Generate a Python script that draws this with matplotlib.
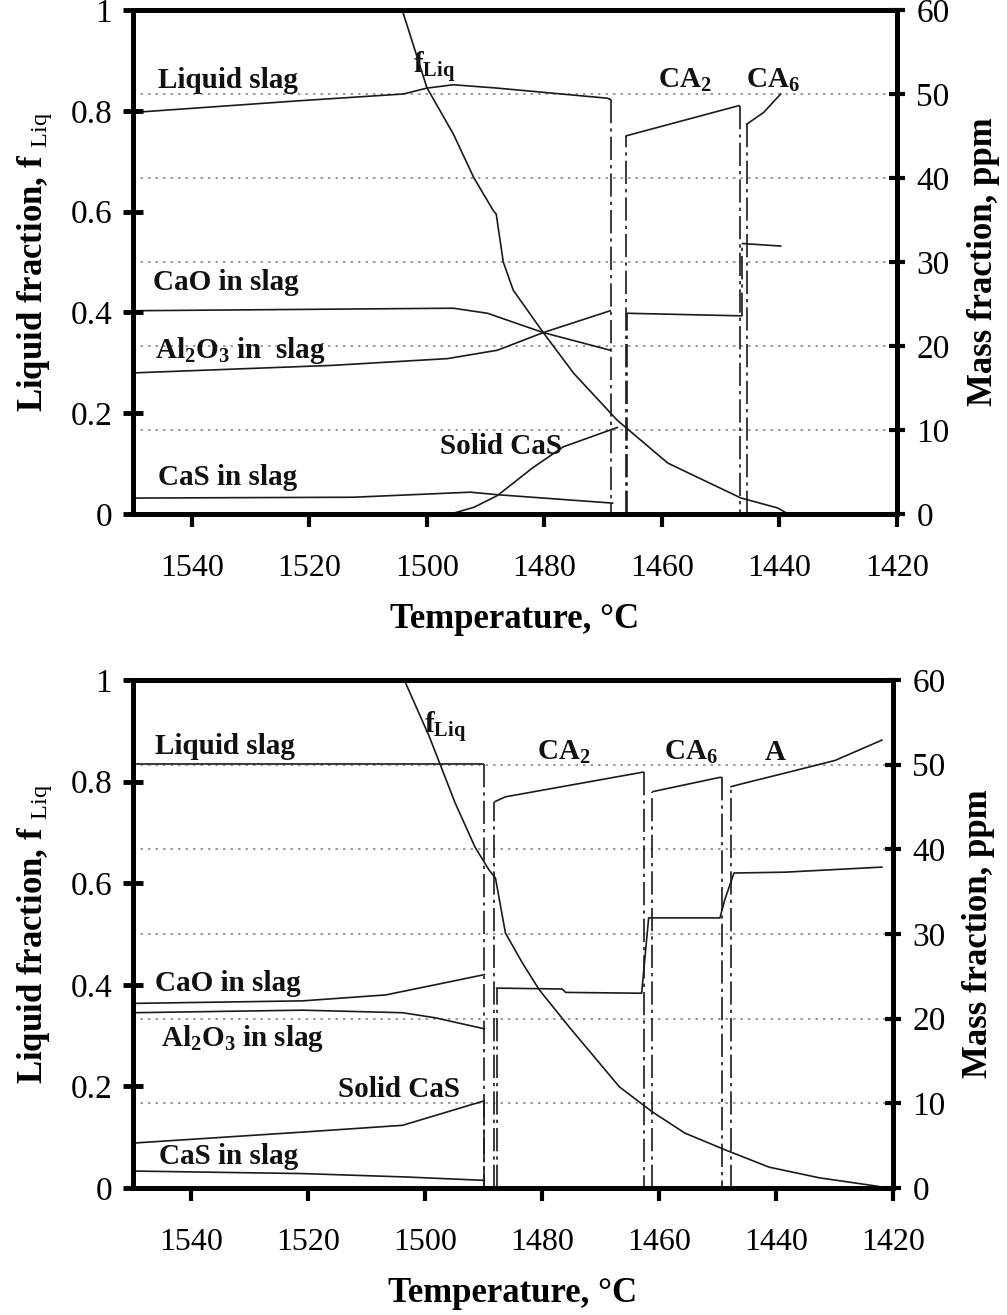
import matplotlib
matplotlib.use('Agg')
import matplotlib.pyplot as plt

plt.rcParams['font.family'] = ['Liberation Serif', 'DejaVu Serif']
plt.rcParams['mathtext.fontset'] = 'custom'
plt.rcParams['mathtext.rm'] = 'Liberation Serif'
plt.rcParams['mathtext.bf'] = 'Liberation Serif:bold'
plt.rcParams['mathtext.it'] = 'Liberation Serif:italic'

# ---------------- data : top panel ----------------
top_fliq_T = [1504.2, 1500, 1495.5, 1492, 1488.7, 1488.2, 1487, 1485.3, 1480.2, 1475, 1467.6, 1459, 1446.6, 1440.3, 1438.5]
top_fliq = [1.0, 0.846, 0.754, 0.667, 0.602, 0.595, 0.50, 0.444, 0.360, 0.279, 0.186, 0.101, 0.032, 0.012, 0.0]

top_liq_T = [1550, 1521.6, 1504, 1500, 1495.5, 1488, 1469.3, 1468.6, 1468.6]
top_liq = [47.8, 49.2, 50.0, 50.7, 51.1, 50.7, 49.5, 49.3, 0]

top_cao_T = [1550, 1495.5, 1489.7, 1480.2, 1468.8]
top_cao = [24.2, 24.5, 23.9, 21.6, 19.5]

top_al2o3_T = [1550, 1516, 1496.5, 1488, 1480.2, 1468.8]
top_al2o3 = [16.8, 17.7, 18.5, 19.5, 21.6, 24.2]

top_cas_T = [1550, 1512.5, 1492.6, 1488, 1468.4]
top_cas = [1.9, 2.0, 2.6, 2.3, 1.3]

top_solcas_T = [1496, 1492, 1488, 1482, 1476.8, 1467.6]
top_solcas = [0, 0.8, 2.2, 5.5, 8.0, 10.3]

top_ca2_T = [1466.2, 1466.2, 1447.0, 1446.7, 1446.7]
top_ca2 = [0, 45.0, 48.6, 48.6, 0]

top_ca6_T = [1445.6, 1445.6, 1442.7, 1439.8]
top_ca6 = [0, 46.4, 47.8, 50.0]

top_caop_T = [1466.0, 1466.0, 1447.0, 1446.3, 1446.3, 1439.8]
top_caop = [0, 23.9, 23.6, 23.6, 32.2, 31.9]

# ---------------- data : bottom panel ----------------
bot_fliq_T = [1503.6, 1499.3, 1494.9, 1491.5, 1489.1, 1488, 1486.3, 1483.4, 1480.5, 1475.4, 1466.8, 1461.2, 1455.6, 1448.7, 1441.2, 1432.6, 1423, 1421]
bot_fliq = [1.0, 0.888, 0.758, 0.671, 0.626, 0.610, 0.502, 0.443, 0.39, 0.317, 0.199, 0.150, 0.108, 0.075, 0.041, 0.020, 0.004, 0.0]

bot_liq_T = [1550, 1489.9, 1489.9]
bot_liq = [50.1, 50.1, 0]

bot_cao_T = [1550, 1521, 1506.8, 1498.3, 1489.9]
bot_cao = [21.8, 22.1, 22.8, 24.0, 25.2]

bot_al2o3_T = [1550, 1521, 1503.9, 1498.3, 1489.9]
bot_al2o3 = [20.7, 21.0, 20.7, 20.1, 18.8]

bot_solcas_T = [1550, 1521, 1503.9, 1489.9, 1489.9]
bot_solcas = [5.3, 6.6, 7.4, 10.3, 0]

bot_cas_T = [1550, 1521, 1503.4, 1489.9]
bot_cas = [2.0, 1.7, 1.3, 0.9]

bot_ca2_T = [1488.2, 1488.2, 1486.3, 1462.9, 1462.6, 1462.6]
bot_ca2 = [0, 45.6, 46.2, 49.1, 49.1, 0]

bot_ca6_T = [1461.2, 1461.2, 1449.6, 1449.3, 1449.3]
bot_ca6 = [0, 46.8, 48.5, 48.5, 0]

bot_a_T = [1447.7, 1447.7, 1445.5, 1438.5, 1429.9, 1421.9]
bot_a = [0, 47.4, 47.8, 49.0, 50.5, 52.9]

bot_caop_T = [1487.8, 1487.8, 1487.2, 1476.6, 1476.0, 1463.0, 1461.8, 1461.2, 1449.6, 1448.8, 1447.2, 1438.5, 1421.9]
bot_caop = [0, 23.6, 23.6, 23.5, 23.1, 23.0, 31.9, 31.9, 31.9, 34.0, 37.2, 37.3, 37.9]

temp_ticks = [1540, 1520, 1500, 1480, 1460, 1440, 1420]
frac_ticks = [0, 0.2, 0.4, 0.6, 0.8, 1]
frac_labels = ['0', '0.2', '0.4', '0.6', '0.8', '1']
ppm_ticks = [0, 10, 20, 30, 40, 50, 60]

LC = '#1a1a1a'
LW = 1.2

fig = plt.figure(figsize=(10.07, 13.15), dpi=100)
ax_top = fig.add_axes([0.1321, 0.6091, 0.7587, 0.3833])
ax_bot = fig.add_axes([0.1321, 0.0966, 0.7547, 0.3863])


def setup(ax):
    ax2 = ax.twinx()
    ax.set_xlim(1550, 1420)
    ax.set_ylim(0, 1)
    ax2.set_ylim(0, 60)
    ax.set_xticks(temp_ticks)
    ax.set_xticklabels([str(t) for t in temp_ticks])
    ax.set_yticks(frac_ticks)
    ax.set_yticklabels(frac_labels)
    ax2.set_yticks(ppm_ticks)
    for a in (ax, ax2):
        for s in a.spines.values():
            s.set_linewidth(3.5)
            s.set_color('black')
    ax.tick_params(axis='y', direction='inout', length=14, width=3.5, labelsize=24, pad=8)
    ax.tick_params(axis='x', direction='out', length=9, width=3, labelsize=23, pad=20)
    ax2.tick_params(axis='y', direction='inout', length=12, width=3, labelsize=24, pad=8)
    ax2.yaxis.grid(True, linestyle=(0, (1.5, 3)), color='#8a8a8a', linewidth=1.2)
    ax.set_xlabel('Temperature, °C', fontsize=25, fontweight='bold', labelpad=14)
    ax.set_ylabel(r'Liquid fraction, f $_{\mathrm{Liq}}$', fontsize=25, fontweight='bold', labelpad=12)
    ax2.set_ylabel('Mass fraction, ppm', fontsize=25, fontweight='bold', labelpad=12)
    ax.set_zorder(ax2.get_zorder() + 1)
    ax.patch.set_visible(False)
    return ax2


def draw_series(ax, T, v):
    # sloped parts solid, vertical phase-transition parts dashed
    run_T, run_v = [T[0]], [v[0]]
    for i in range(1, len(T)):
        if T[i] == T[i - 1] and abs(v[i] - v[i - 1]) > 3:
            if len(run_T) > 1:
                ax.plot(run_T, run_v, color=LC, lw=LW, solid_capstyle='butt')
            ax.plot([T[i - 1], T[i]], [v[i - 1], v[i]], color=LC, lw=LW,
                    linestyle=(0, (14, 3, 2, 3)))
            run_T, run_v = [T[i]], [v[i]]
        else:
            run_T.append(T[i])
            run_v.append(v[i])
    if len(run_T) > 1:
        ax.plot(run_T, run_v, color=LC, lw=LW)


def lbl(ax, x, y, s, size=21):
    ax.text(x, y, s, fontsize=size, fontweight='bold', ha='left', va='center', color='#111')


# ---- top panel ----
t2 = setup(ax_top)
ax_top.plot(top_fliq_T, top_fliq, color=LC, lw=LW)
for T, v in [(top_liq_T, top_liq), (top_cao_T, top_cao), (top_al2o3_T, top_al2o3),
             (top_cas_T, top_cas), (top_solcas_T, top_solcas), (top_ca2_T, top_ca2),
             (top_ca6_T, top_ca6), (top_caop_T, top_caop)]:
    draw_series(t2, T, v)

lbl(t2, 1545.8, 51.6, 'Liquid slag')
lbl(t2, 1502.3, 53.2, r'f$_{\mathbf{Liq}}$')
lbl(t2, 1460.6, 51.6, r'CA$_{\mathbf{2}}$')
lbl(t2, 1445.7, 51.6, r'CA$_{\mathbf{6}}$')
lbl(t2, 1546.6, 27.6, 'CaO in slag')
lbl(t2, 1546.3, 19.5, r'Al$_{\mathbf{2}}$O$_{\mathbf{3}}$ in  slag')
lbl(t2, 1497.7, 8.0, 'Solid CaS')
lbl(t2, 1545.8, 4.4, 'CaS in slag')

# ---- bottom panel ----
b2 = setup(ax_bot)
ax_bot.plot(bot_fliq_T, bot_fliq, color=LC, lw=LW)
for T, v in [(bot_liq_T, bot_liq), (bot_cao_T, bot_cao), (bot_al2o3_T, bot_al2o3),
             (bot_cas_T, bot_cas), (bot_solcas_T, bot_solcas), (bot_ca2_T, bot_ca2),
             (bot_ca6_T, bot_ca6), (bot_a_T, bot_a), (bot_caop_T, bot_caop)]:
    draw_series(b2, T, v)

lbl(b2, 1546.2, 52.1, 'Liquid slag')
lbl(b2, 1500.2, 54.4, r'f$_{\mathbf{Liq}}$')
lbl(b2, 1480.9, 51.5, r'CA$_{\mathbf{2}}$')
lbl(b2, 1459.1, 51.4, r'CA$_{\mathbf{6}}$')
lbl(b2, 1441.9, 51.4, 'A')
lbl(b2, 1546.2, 24.2, 'CaO in slag')
lbl(b2, 1545.3, 17.7, r'Al$_{\mathbf{2}}$O$_{\mathbf{3}}$ in slag')
lbl(b2, 1515.0, 11.6, 'Solid CaS')
lbl(b2, 1545.5, 3.7, 'CaS in slag')

fig.savefig('out.png', dpi=100)
